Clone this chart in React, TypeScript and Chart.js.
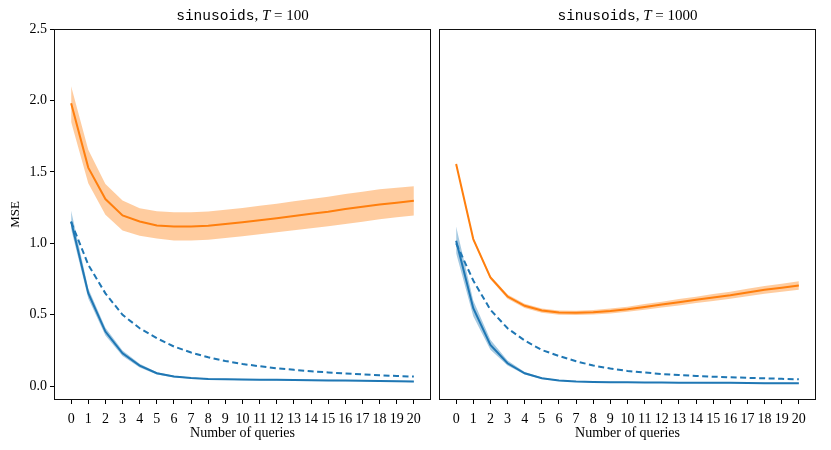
import React, { useEffect, useRef } from "react";
import { Chart, registerables } from "chart.js";
Chart.register(...registerables);

const queries = [0, 1, 2, 3, 4, 5, 6, 7, 8, 9, 10, 11, 12, 13, 14, 15, 16, 17, 18, 19, 20];
const yTicks = [0, 0.5, 1.0, 1.5, 2.0, 2.5];

// T = 100
const orange100 = [1.98, 1.53, 1.31, 1.195, 1.153, 1.125, 1.118, 1.118, 1.123, 1.135, 1.148, 1.162, 1.176, 1.192, 1.207, 1.222, 1.24, 1.256, 1.272, 1.285, 1.298];
const orange100Hi = [2.1, 1.655, 1.415, 1.3, 1.246, 1.225, 1.218, 1.218, 1.223, 1.235, 1.248, 1.264, 1.278, 1.295, 1.31, 1.327, 1.345, 1.362, 1.378, 1.39, 1.4];
const orange100Lo = [1.85, 1.42, 1.2, 1.09, 1.053, 1.034, 1.02, 1.02, 1.025, 1.037, 1.05, 1.063, 1.077, 1.092, 1.106, 1.12, 1.136, 1.152, 1.168, 1.182, 1.195];
const blue100 = [1.153, 0.651, 0.383, 0.231, 0.145, 0.091, 0.068, 0.058, 0.051, 0.049, 0.047, 0.046, 0.045, 0.044, 0.042, 0.041, 0.04, 0.039, 0.037, 0.035, 0.033];
const blue100Hi = [1.228, 0.685, 0.41, 0.25, 0.158, 0.099, 0.074, 0.062, 0.055, 0.053, 0.051, 0.05, 0.049, 0.048, 0.046, 0.045, 0.044, 0.043, 0.041, 0.039, 0.037];
const blue100Lo = [1.1, 0.615, 0.355, 0.212, 0.132, 0.083, 0.062, 0.054, 0.047, 0.045, 0.043, 0.042, 0.041, 0.04, 0.038, 0.037, 0.036, 0.035, 0.033, 0.031, 0.029];
const dashed100 = [1.15, 0.85, 0.65, 0.5, 0.406, 0.336, 0.278, 0.236, 0.203, 0.177, 0.156, 0.14, 0.126, 0.115, 0.105, 0.097, 0.089, 0.083, 0.077, 0.072, 0.068];

// T = 1000
const orange1000 = [1.555, 1.03, 0.761, 0.628, 0.563, 0.53, 0.516, 0.514, 0.518, 0.527, 0.539, 0.555, 0.572, 0.588, 0.605, 0.621, 0.637, 0.656, 0.675, 0.69, 0.705];
const orange1000Hi = [1.565, 1.04, 0.773, 0.643, 0.578, 0.545, 0.531, 0.529, 0.534, 0.545, 0.557, 0.575, 0.592, 0.61, 0.627, 0.645, 0.662, 0.682, 0.702, 0.718, 0.735];
const orange1000Lo = [1.545, 1.02, 0.749, 0.613, 0.548, 0.515, 0.501, 0.499, 0.502, 0.509, 0.521, 0.535, 0.552, 0.566, 0.583, 0.597, 0.612, 0.63, 0.648, 0.662, 0.675];
const blue1000 = [1.018, 0.546, 0.289, 0.161, 0.091, 0.056, 0.04, 0.033, 0.03, 0.029, 0.028, 0.027, 0.026, 0.025, 0.025, 0.024, 0.024, 0.023, 0.022, 0.022, 0.021];
const blue1000Hi = [1.118, 0.6, 0.325, 0.18, 0.1, 0.061, 0.043, 0.035, 0.032, 0.031, 0.03, 0.029, 0.028, 0.027, 0.027, 0.026, 0.026, 0.025, 0.024, 0.024, 0.023];
const blue1000Lo = [0.93, 0.49, 0.255, 0.145, 0.083, 0.051, 0.037, 0.031, 0.028, 0.027, 0.026, 0.025, 0.024, 0.023, 0.023, 0.022, 0.022, 0.021, 0.02, 0.02, 0.019];
const dashed1000 = [1.0, 0.74, 0.535, 0.406, 0.32, 0.254, 0.212, 0.175, 0.145, 0.124, 0.107, 0.096, 0.086, 0.079, 0.072, 0.067, 0.063, 0.059, 0.056, 0.052, 0.049];

const ORANGE = "#ff7f0e";
const BLUE = "#1f77b4";
const ORANGE_BAND = "rgba(255,127,14,0.4)";
const BLUE_BAND = "rgba(31,119,180,0.4)";
const SERIF = "'Liberation Serif', 'Times New Roman', serif";
const MONO = "'Liberation Mono', 'DejaVu Sans Mono', monospace";

const pts = (ys: number[]) => queries.map((x, i) => ({ x, y: ys[i] }));

type PanelProps = {
  T: string;
  orange: number[];
  orangeHi: number[];
  orangeLo: number[];
  blue: number[];
  blueHi: number[];
  blueLo: number[];
  dashed: number[];
  showY: boolean;
  width: number;
  padLeft: number;
  padRight: number;
};

function Panel(p: PanelProps) {
  const ref = useRef<HTMLCanvasElement | null>(null);
  useEffect(() => {
    const canvas = ref.current;
    if (!canvas) return;
    const framePlugin = {
      id: "frame",
      afterDatasetsDraw(chart: any) {
        const { ctx, chartArea: a } = chart;
        ctx.save();
        ctx.strokeStyle = "#111";
        ctx.lineWidth = 1;
        ctx.strokeRect(Math.round(a.left) + 0.5, Math.round(a.top) + 0.5, Math.round(a.right - a.left) - 1, Math.round(a.bottom - a.top) - 1);
        ctx.restore();
      },
      afterDraw(chart: any) {
        const { ctx, chartArea: a } = chart;
        ctx.save();
        ctx.fillStyle = "#000";
        ctx.textBaseline = "middle";
        const monoFont = `14.5px ${MONO}`;
        const serifFont = `15px ${SERIF}`;
        const italicFont = `italic 15px ${SERIF}`;
        const parts: [string, string][] = [
          ["sinusoids", monoFont],
          [", ", serifFont],
          ["T", italicFont],
          [" = " + p.T, serifFont],
        ];
        let total = 0;
        const widths = parts.map(([t, f]) => {
          ctx.font = f;
          const w = ctx.measureText(t).width;
          total += w;
          return w;
        });
        let x = (a.left + a.right) / 2 - total / 2;
        const y = 16;
        ctx.textAlign = "left";
        parts.forEach(([t, f], i) => {
          ctx.font = f;
          ctx.fillText(t, x, y);
          x += widths[i];
        });
        ctx.restore();
      },
    };
    const band = (data: number[], color: string, fill: any) => ({
      data: pts(data),
      borderWidth: 0,
      borderColor: "rgba(0,0,0,0)",
      backgroundColor: color,
      pointRadius: 0,
      fill,
      order: 10,
    });
    const chart = new Chart(canvas, {
      type: "line",
      data: {
        datasets: [
          band(p.orangeHi, ORANGE_BAND, "+1"),
          band(p.orangeLo, ORANGE_BAND, false),
          band(p.blueHi, BLUE_BAND, "+1"),
          band(p.blueLo, BLUE_BAND, false),
          { data: pts(p.dashed), borderColor: BLUE, borderWidth: 2, borderDash: [6, 3.5], pointRadius: 0, fill: false, order: 3 },
          { data: pts(p.blue), borderColor: BLUE, borderWidth: 2, pointRadius: 0, fill: false, order: 2 },
          { data: pts(p.orange), borderColor: ORANGE, borderWidth: 2, pointRadius: 0, fill: false, order: 1 },
        ] as any,
      },
      options: {
        animation: false,
        responsive: false,
        devicePixelRatio: 1,
        layout: { padding: { left: p.padLeft, right: p.padRight, top: 29, bottom: 0 } },
        plugins: {
          legend: { display: false },
          tooltip: { enabled: false },
          filler: { drawTime: "beforeDatasetsDraw" },
        } as any,
        scales: {
          x: {
            type: "linear",
            min: -1,
            max: 21,
            grid: { drawOnChartArea: false, drawTicks: true, tickLength: 4, color: "#000" },
            border: { display: false },
            ticks: { stepSize: 1, autoSkip: false, maxRotation: 0, padding: 7, color: "#000", font: { family: SERIF, size: 14 } },
            title: { display: true, text: "Number of queries", color: "#000", font: { family: SERIF, size: 14 }, padding: { top: 0, bottom: 8 } },
            afterBuildTicks: (s: any) => {
              s.ticks = queries.map((v) => ({ value: v }));
            },
            afterFit: (s: any) => {
              s.height = 50;
            },
          },
          y: {
            type: "linear",
            display: p.showY,
            min: -0.096,
            max: 2.5,
            grid: { drawOnChartArea: false, drawTicks: true, tickLength: 4, color: "#000" },
            border: { display: false },
            ticks: { color: "#000", font: { family: SERIF, size: 14 }, padding: 3, callback: (v: any) => Number(v).toFixed(1) },
            title: { display: p.showY, text: "MSE", color: "#000", font: { family: SERIF, size: 13 }, padding: { top: 8, bottom: 0 } },
            afterBuildTicks: (s: any) => {
              s.ticks = yTicks.map((v) => ({ value: v }));
            },
            afterFit: (s: any) => {
              s.width = p.showY ? 54 : 0;
            },
          },
        } as any,
      },
      plugins: [framePlugin],
    });
    return () => chart.destroy();
  }, []);
  return <canvas ref={ref} width={p.width} height={450} style={{ width: p.width, height: 450, display: "block" }} />;
}

export default function App() {
  return (
    <div style={{ position: "absolute", left: 0, top: 0, width: 831, height: 450, background: "#fff", display: "flex" }}>
      <Panel T="100" orange={orange100} orangeHi={orange100Hi} orangeLo={orange100Lo} blue={blue100} blueHi={blue100Hi} blueLo={blue100Lo} dashed={dashed100} showY={true} width={436} padLeft={0} padRight={5} />
      <Panel T="1000" orange={orange1000} orangeHi={orange1000Hi} orangeLo={orange1000Lo} blue={blue1000} blueHi={blue1000Hi} blueLo={blue1000Lo} dashed={dashed1000} showY={false} width={395} padLeft={3} padRight={15} />
    </div>
  );
}
